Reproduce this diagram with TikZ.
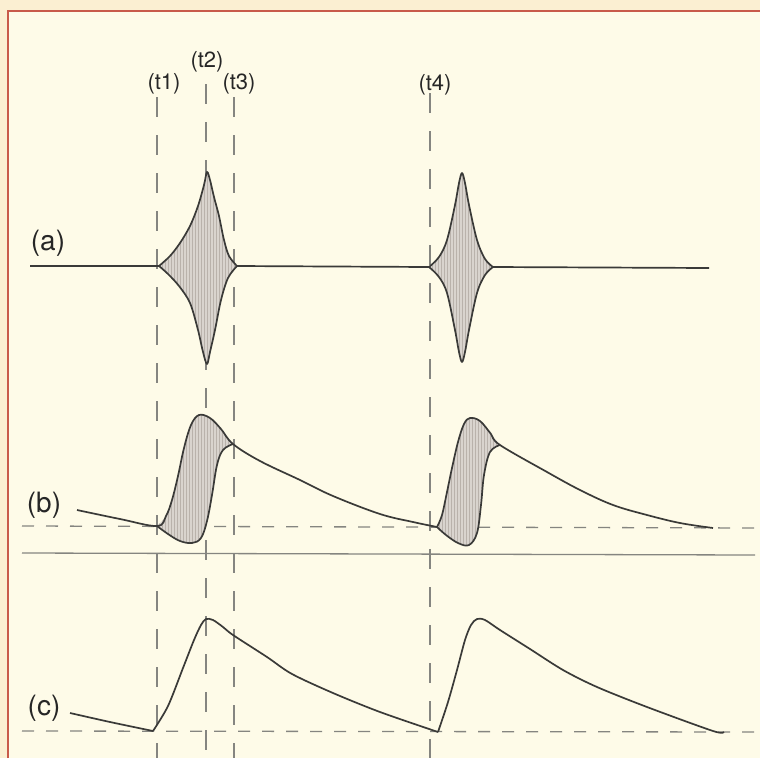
\documentclass[tikz,border=0pt]{standalone}
\usepackage{fontspec}
\setmainfont{TeX Gyre Heros}
\definecolor{cpaper}{HTML}{FEFBE8}
\definecolor{cedge}{HTML}{FBEFD2}
\definecolor{credline}{HTML}{C85A4A}
\definecolor{cink}{HTML}{3A3A38}
\definecolor{cguide}{HTML}{858580}
\definecolor{cshade}{HTML}{D9D4CE}
\definecolor{chatch}{HTML}{B9B2AB}
\tikzset{
  curve/.style={draw=cink, line width=1.7pt, line join=round},
  vguide/.style={draw=cguide, line width=1.3pt, dash pattern=on 20pt off 18pt},
  hguide/.style={draw=cguide, line width=1.3pt, dash pattern=on 12pt off 12pt},
  baseline/.style={draw=cguide, line width=1.3pt},
  biglabel/.style={font=\fontsize{28}{30}\selectfont, text=black!85, inner sep=0pt},
  tlabel/.style={font=\fontsize{22}{24}\selectfont, text=black!85, inner sep=0pt},
  hatchline/.style={draw=chatch, line width=0.5pt},
  shadefill/.style={fill=cshade}
}
\begin{document}
\begin{tikzpicture}[x=1pt, y=-1pt]
\useasboundingbox (0,0) rectangle (760,758);
\fill[cedge] (0,0) rectangle (760,758);
\fill[cpaper] (8,11) rectangle (760,758);
\draw[credline, line width=2pt] (8,758) -- (8,11) -- (760,11);

% time guides
\coordinate (g1t) at (157,97);  \coordinate (g1b) at (157,758);
\coordinate (g2t) at (206,84);  \coordinate (g2b) at (206,758);
\coordinate (g3t) at (234,97);  \coordinate (g3b) at (234,758);
\coordinate (g4t) at (430,93);  \coordinate (g4b) at (430,758);
\draw[vguide] (g1t) -- (g1b);
\draw[vguide] (g2t) -- (g2b);
\draw[vguide] (g3t) -- (g3b);
\draw[vguide] (g4t) -- (g4b);

\node[tlabel] (t1) at (164,84) {(t1)};
\node[tlabel] (t2) at (207,62) {(t2)};
\node[tlabel] (t3) at (239,84) {(t3)};
\node[tlabel] (t4) at (435,85) {(t4)};

\node[biglabel] (la) at (48,243) {(a)};
\node[biglabel] (lb) at (44,505) {(b)};
\node[biglabel] (lc) at (44,708) {(c)};

% horizontal guides
\coordinate (bd1) at (22,526); \coordinate (bd2) at (760,528);
\coordinate (bs1) at (22,553); \coordinate (bs2) at (755,555);
\coordinate (cd1) at (22,731); \coordinate (cd2) at (760,732);
\draw[hguide] (bd1) -- (bd2);
\draw[baseline] (bs1) -- (bs2);
\draw[hguide] (cd1) -- (cd2);

% ---------- (a) bursts ----------
\begin{scope}
\clip plot[smooth, tension=0.55] coordinates {(159,266) (170,256) (180,243) (190,226) (198,206) (204,185) (207,172) (210,180) (214,197) (219,216) (224,240) (229,256) (237,266)}
  -- plot[smooth, tension=0.55] coordinates {(237,266) (228,278) (221,300) (215,330) (210,352) (207,364) (203,352) (198,330) (190,303) (179,286) (168,274) (159,266)} -- cycle;
\fill[shadefill] (150,160) rectangle (245,375);
\foreach \hx in {150,153,...,245} \draw[hatchline] (\hx,160) -- (\hx,375);
\end{scope}
\draw[curve] plot[smooth, tension=0.55] coordinates {(159,266) (170,256) (180,243) (190,226) (198,206) (204,185) (207,172) (210,180) (214,197) (219,216) (224,240) (229,256) (237,266)};
\draw[curve] plot[smooth, tension=0.55] coordinates {(159,266) (168,274) (179,286) (190,303) (198,330) (203,352) (207,364) (210,352) (215,330) (221,300) (228,278) (237,266)};

\begin{scope}
\clip plot[smooth, tension=0.55] coordinates {(429,267) (439,257) (447,240) (455,205) (459,183) (462,173) (465,183) (469,205) (477,240) (485,259) (493,267)}
  -- plot[smooth, tension=0.55] coordinates {(493,267) (485,275) (477,293) (469,330) (465,352) (462,362) (459,352) (455,330) (447,293) (439,277) (429,267)} -- cycle;
\fill[shadefill] (420,160) rectangle (500,375);
\foreach \hx in {420,423,...,500} \draw[hatchline] (\hx,160) -- (\hx,375);
\end{scope}
\draw[curve] plot[smooth, tension=0.55] coordinates {(429,267) (439,257) (447,240) (455,205) (459,183) (462,173) (465,183) (469,205) (477,240) (485,259) (493,267)};
\draw[curve] plot[smooth, tension=0.55] coordinates {(429,267) (439,277) (447,293) (455,330) (459,352) (462,362) (465,352) (469,330) (477,293) (485,275) (493,267)};

\coordinate (a0) at (30,266);
\coordinate (a1) at (159,266);
\coordinate (a2) at (237,266);
\coordinate (a3) at (429,267);
\coordinate (a4) at (493,267);
\coordinate (a5) at (709,268);
\draw[curve] (a0) -- (a1);
\draw[curve] (a2) -- (a3);
\draw[curve] (a4) -- (a5);

% ---------- (b) ----------
\begin{scope}
\clip plot[smooth, tension=0.6] coordinates {(157,526) (166,516) (172,500) (178,476) (184,448) (191,425) (199,415) (210,418) (221,429) (233,444)}
  -- plot[smooth, tension=0.6] coordinates {(233,444) (223,450) (217,465) (212,495) (207,521) (201,538) (192,543) (180,541) (168,534) (157,526)} -- cycle;
\fill[shadefill] (150,405) rectangle (240,550);
\foreach \hx in {150,153,...,240} \draw[hatchline] (\hx,405) -- (\hx,550);
\end{scope}
\draw[curve] plot[smooth, tension=0.6] coordinates {(77,510) (120,519) (157,526) (166,516) (172,500) (178,476) (184,448) (191,425) (199,415) (210,418) (221,429) (233,444) (260,461) (300,480) (333,496) (380,514) (413,522) (437,527)};
\draw[curve] plot[smooth, tension=0.6] coordinates {(157,526) (168,534) (180,541) (192,543) (201,538) (207,521) (212,495) (217,465) (223,450) (233,444)};

\begin{scope}
\clip plot[smooth, tension=0.6] coordinates {(437,527) (442,515) (447,492) (452,468) (458,442) (464,424) (470,418) (480,421) (491,434) (500,445)}
  -- plot[smooth, tension=0.6] coordinates {(500,445) (490,452) (484,475) (481,505) (477,533) (469,545) (458,543) (446,535) (437,527)} -- cycle;
\fill[shadefill] (430,405) rectangle (505,552);
\foreach \hx in {430,433,...,505} \draw[hatchline] (\hx,405) -- (\hx,552);
\end{scope}
\draw[curve] plot[smooth, tension=0.6] coordinates {(437,527) (442,515) (447,492) (452,468) (458,442) (464,424) (470,418) (480,421) (491,434) (500,445) (547,472) (580,490) (613,505) (647,515) (680,523) (713,528)};
\draw[curve] plot[smooth, tension=0.6] coordinates {(437,527) (446,535) (458,543) (469,545) (477,533) (481,505) (484,475) (490,452) (500,445)};

% ---------- (c) ----------
\draw[curve] plot[smooth, tension=0.4] coordinates {(70,713) (110,722) (153,731)};
\draw[curve] plot[smooth, tension=0.5] coordinates {(153,731) (168,706) (183,668) (194,640) (201,625) (206,619) (213,620) (223,627) (233,635) (267,657) (292,674) (333,693) (380,712) (438,732)};
\draw[curve] plot[smooth, tension=0.5] coordinates {(438,732) (448,702) (457,670) (465,640) (471,625) (477,619) (485,620) (500,630) (530,649) (563,670) (597,687) (647,707) (713,731) (724,732)};
\end{tikzpicture}
\end{document}
